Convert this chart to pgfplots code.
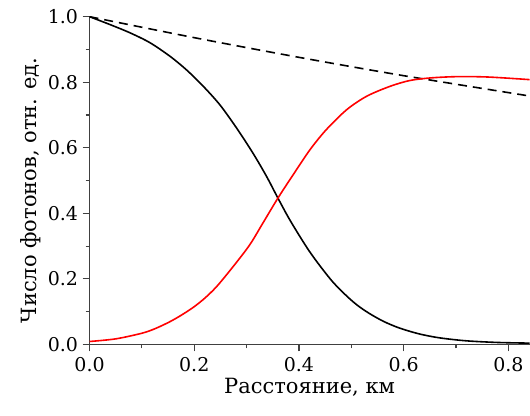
\documentclass[border=0pt]{standalone}
\usepackage{fontspec}
\setmainfont{DejaVu Serif}
\usepackage{pgfplots}
\pgfplotsset{compat=1.18}
\definecolor{axgray}{RGB}{64,64,64}
\begin{document}
\begin{tikzpicture}
\begin{axis}[
  at={(0,0)}, anchor=south west,
  scale only axis,
  width=440.4pt, height=328pt,
  xmin=0, xmax=0.8405, ymin=0, ymax=1.0,
  axis x line*=bottom, axis y line*=left,
  axis line style={axgray, line width=1.4pt},
  every tick/.style={axgray, line width=1.2pt},
  tick align=outside,
  major tick length=7pt, minor tick length=4pt,
  minor tick num=1,
  xtick={0,0.2,0.4,0.6,0.8},
  ytick={0,0.2,0.4,0.6,0.8,1.0},
  /pgf/number format/assume math mode=true,
  /pgf/number format/.cd, fixed, fixed zerofill, precision=1, /pgfplots/.cd,
  tick label style={font=\fontsize{19}{23}\selectfont, black},
  xticklabel style={yshift=-2pt},
  yticklabel style={xshift=-1pt},
  xlabel={Расстояние, км},
  ylabel={Число фотонов, отн. ед.},
  ylabel style={at={(ticklabel cs:0.47)}},
  label style={font=\fontsize{21}{25}\selectfont, black},
  clip=true,
]
\addplot[black, line width=1.6pt, dash pattern=on 9pt off 6pt, smooth] coordinates {
(0,1.0) (0.2,0.936) (0.4,0.876) (0.6,0.820) (0.8405,0.758)};
\addplot[black, line width=1.6pt, smooth] coordinates {
(0.000,1.000) (0.039,0.976) (0.077,0.951) (0.115,0.921) (0.153,0.880)
(0.185,0.838) (0.217,0.788) (0.249,0.731) (0.281,0.660) (0.312,0.584)
(0.338,0.513) (0.360,0.446) (0.380,0.387) (0.4015,0.330) (0.420,0.284)
(0.440,0.240) (0.465,0.190) (0.491,0.148) (0.512,0.119) (0.535,0.094)
(0.562,0.070) (0.592,0.050) (0.630,0.032) (0.669,0.020) (0.720,0.011)
(0.780,0.006) (0.8405,0.004)};
\addplot[red, line width=1.6pt, smooth] coordinates {
(0.000,0.009) (0.050,0.017) (0.0995,0.034) (0.125,0.048) (0.153,0.069)
(0.175,0.089) (0.198,0.113) (0.220,0.141) (0.243,0.177) (0.274,0.237)
(0.306,0.304) (0.331,0.370) (0.360,0.447) (0.389,0.518) (0.421,0.594)
(0.452,0.655) (0.491,0.716) (0.529,0.757) (0.573,0.787) (0.611,0.805)
(0.650,0.813) (0.700,0.817) (0.760,0.816) (0.8405,0.808)};
\end{axis}
\pgfresetboundingbox
\path[use as bounding box] (-89.6pt,-71.3pt) rectangle (440.8pt,344.7pt);
\end{tikzpicture}
\end{document}
